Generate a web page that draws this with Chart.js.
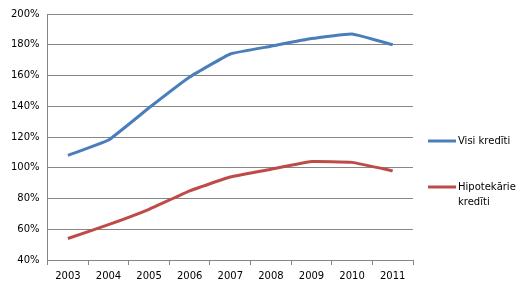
<!DOCTYPE html>
<html>
<head>
<meta charset="utf-8">
<script src="https://cdn.jsdelivr.net/npm/chart.js@4"></script>
<style>
  html, body { margin: 0; padding: 0; background: #fff; }
</style>
</head>
<body>
<canvas id="myLineChart" width="525" height="291"></canvas>
<script>
// Data
var years = ['2003', '2004', '2005', '2006', '2007', '2008', '2009', '2010', '2011'];
var visiKrediti = [108, 118, 139, 159, 174, 179, 184, 187, 180];
var hipotekarieKrediti = [54, 63, 73, 85, 94, 99, 104, 103.5, 98];
var seriesNames = ['Visi kredīti', ['Hipotekārie', 'kredīti']];
var seriesColors = ['#4a7ebb', '#be4b48'];

var fontFamily = '"DejaVu Sans", Verdana, sans-serif';
var gridColor = '#868686';

// Legend drawn by hand on the right
var sideLegend = {
    id: 'sideLegend',
    afterDraw: function (chart) {
        var c = chart.ctx;
        var rows = [141, 187];
        c.save();
        c.font = '10px ' + fontFamily;
        c.fillStyle = '#000';
        c.textBaseline = 'middle';
        for (var i = 0; i < seriesNames.length; i++) {
            c.strokeStyle = seriesColors[i];
            c.lineWidth = 3;
            c.beginPath();
            c.moveTo(428, rows[i]);
            c.lineTo(456, rows[i]);
            c.stroke();
            var lines = [].concat(seriesNames[i]);
            for (var j = 0; j < lines.length; j++) {
                c.fillText(lines[j], 458, rows[i] + j * 15);
            }
        }
        c.restore();
    }
};

var ctx = document.getElementById('myLineChart').getContext('2d');
var myLineChart = new Chart(ctx, {
    type: 'line',
    data: {
        labels: years,
        datasets: [{
            label: 'Visi kredīti',
            data: visiKrediti,
            borderColor: seriesColors[0],
            borderWidth: 3,
            pointRadius: 0,
            tension: 0.1,
            fill: false
        }, {
            label: 'Hipotekārie kredīti',
            data: hipotekarieKrediti,
            borderColor: seriesColors[1],
            borderWidth: 3,
            pointRadius: 0,
            tension: 0.1,
            fill: false
        }]
    },
    options: {
        responsive: false,
        animation: false,
        layout: { padding: { left: 3, right: 112, top: 8, bottom: 4 } },
        plugins: {
            legend: { display: false },
            tooltip: { enabled: false }
        },
        scales: {
            x: {
                offset: true,
                grid: {
                    offset: true,
                    drawOnChartArea: false,
                    drawTicks: true,
                    tickLength: 5,
                    color: gridColor
                },
                border: { color: gridColor },
                ticks: {
                    color: '#000',
                    font: { family: fontFamily, size: 10 },
                    maxRotation: 0,
                    padding: 5
                }
            },
            y: {
                min: 40,
                max: 200,
                grid: {
                    color: gridColor,
                    drawTicks: false
                },
                border: { color: gridColor },
                ticks: {
                    stepSize: 20,
                    color: '#000',
                    font: { family: fontFamily, size: 10 },
                    padding: 8,
                    callback: function (v) { return v + '%'; }
                }
            }
        }
    },
    plugins: [sideLegend]
});
</script>
</body>
</html>
